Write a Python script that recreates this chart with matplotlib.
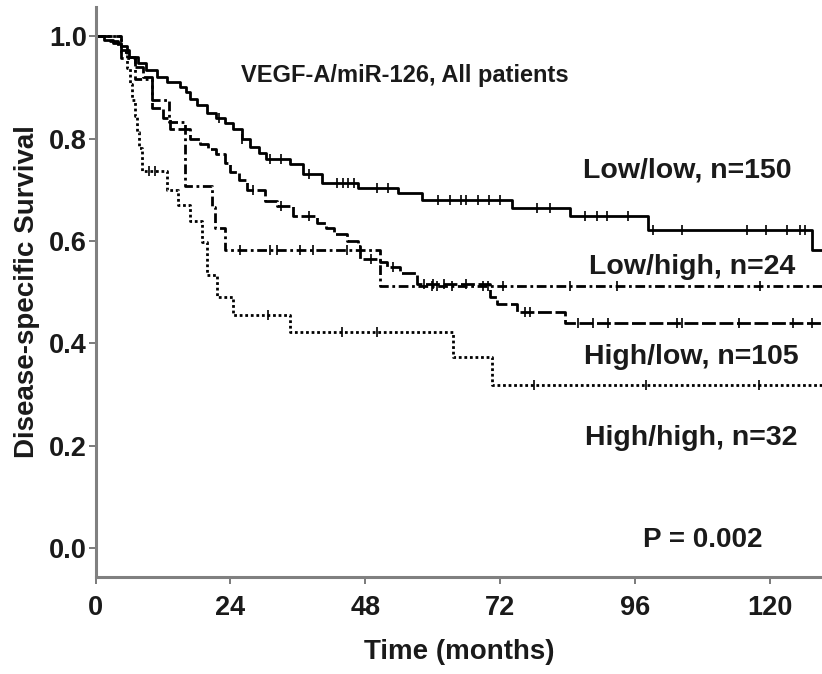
import matplotlib
matplotlib.use("Agg")
import matplotlib.pyplot as plt
import numpy as np

plt.rcParams['font.family'] = ['Liberation Sans', 'DejaVu Sans']
plt.rcParams['font.weight'] = 'bold'

# Kaplan-Meier step data (time in months, survival)
lowlow_t = [0, 1.5, 3, 4.5, 6, 7.5, 9, 11, 12.7, 15.0, 16, 16.8, 18, 19.8, 21.5, 23, 24.4, 26, 27.5,
            29, 30.4, 34.6, 36.9, 40.3, 46.7, 53.8, 58.1, 74.1, 84.4, 98.3, 127.5]
lowlow_s = [1.0, 0.993, 0.987, 0.973, 0.96, 0.947, 0.933, 0.92, 0.91, 0.90, 0.89, 0.877, 0.866, 0.849,
            0.84, 0.83, 0.818, 0.80, 0.784, 0.772, 0.76, 0.75, 0.73, 0.714, 0.703, 0.693, 0.68, 0.665,
            0.648, 0.622, 0.583]
lowlow_cens = [22, 26, 31, 33, 38, 43, 44, 45, 46, 50, 52, 61, 63, 65, 66, 68, 70, 72, 78.5, 80.9,
               87.1, 89.2, 91, 94.7, 99.2, 104.3, 115.9, 119.4, 123, 125.3, 126.2]

lowhigh_t = [0, 4.5, 7, 10, 13, 15.9, 20.7, 21.2, 23.0, 50.6]
lowhigh_s = [1.0, 0.958, 0.917, 0.875, 0.833, 0.708, 0.667, 0.625, 0.583, 0.511]
lowhigh_cens = [25.7, 31, 32.3, 36.4, 38.7, 44.7, 59.8, 60.7, 63.4, 68.9, 69.8, 72.5, 84.4, 92.8, 118.2]

highlow_t = [0, 2.5, 4, 5.5, 7, 8.5, 10, 12, 13.2, 16.8, 18.5, 20, 21.5, 23, 23.9, 25.5, 26.9, 30.1,
             32.2, 35.1, 39.4, 41, 42.5, 44.7, 46.7, 47.0, 50.6, 51.8, 54.1, 57.2, 70.2, 71.4, 75, 83.5]
highlow_s = [1.0, 0.99, 0.98, 0.96, 0.94, 0.92, 0.86, 0.84, 0.818, 0.80, 0.79, 0.779, 0.77, 0.752,
             0.734, 0.718, 0.70, 0.678, 0.668, 0.648, 0.635, 0.625, 0.613, 0.60, 0.589, 0.564, 0.558,
             0.548, 0.538, 0.515, 0.49, 0.476, 0.46, 0.44]
highlow_cens = [28, 33, 38, 49, 53, 58.5, 60, 62, 66, 76.4, 77.3, 85.8, 88.5, 91.2, 103.4, 104.3,
                114.6, 124.1, 127.6]

highhigh_t = [0, 4.5, 5.6, 6.1, 6.5, 7.0, 7.4, 7.8, 8.2, 12.7, 14.6, 16.8, 18.9, 19.8, 21.6, 24.4,
              34.6, 63.6, 70.5]
highhigh_s = [1.0, 0.969, 0.938, 0.906, 0.875, 0.844, 0.812, 0.781, 0.736, 0.70, 0.671, 0.638, 0.597,
              0.534, 0.491, 0.456, 0.421, 0.373, 0.319]
highhigh_cens = [9.5, 10.5, 30.7, 43.8, 50.1, 78, 98, 118]

group_labels = ["Low/low, n=150", "Low/high, n=24", "High/low, n=105", "High/high, n=32"]
label_pos = [(105.4, 0.738), (106.1, 0.549), (106.1, 0.373), (106.1, 0.215)]
x_ticks = [0, 24, 48, 72, 96, 120]
y_ticks = [0.0, 0.2, 0.4, 0.6, 0.8, 1.0]

X_MAX = 129.3

fig = plt.figure(figsize=(8.22, 6.74), dpi=100)
ax = fig.add_axes([0.1164, 0.1439, 0.8836, 0.8457])


def km_curve(t, s, cens, ls):
    t = np.asarray(t, float)
    s = np.asarray(s, float)
    tt = np.append(t, X_MAX + 5)
    ss = np.append(s, s[-1])
    ax.step(tt, ss, where='post', color='black', lw=2.0, linestyle=ls,
            dash_capstyle='butt', solid_capstyle='butt', clip_on=True)
    idx = np.searchsorted(t, cens, side='right') - 1
    ax.plot(cens, s[idx], linestyle='none', marker='|', color='black',
            markersize=7, markeredgewidth=1.2)


km_curve(lowlow_t, lowlow_s, lowlow_cens, '-')
km_curve(lowhigh_t, lowhigh_s, lowhigh_cens, (0, (3.5, 1.3, 1.0, 1.3)))
km_curve(highlow_t, highlow_s, highlow_cens, (0, (5, 1.3)))
km_curve(highhigh_t, highhigh_s, highhigh_cens, (0, (1.0, 1.0)))

ax.set_xlim(0, X_MAX)
ax.set_ylim(-0.057, 1.057)
ax.set_xticks(x_ticks)
ax.set_yticks(y_ticks)
ax.set_yticklabels(["%.1f" % v for v in y_ticks])

for side in ['top', 'right']:
    ax.spines[side].set_visible(False)
for side in ['left', 'bottom']:
    ax.spines[side].set_color('#808080')
    ax.spines[side].set_linewidth(2.2)
ax.tick_params(axis='both', colors='#707070', length=5, width=1.3, labelsize=19.5,
               labelcolor='#1a1a1a')
ax.tick_params(axis='y', pad=1.5)
ax.tick_params(axis='x', pad=8)

ax.set_xlabel("Time (months)", fontsize=20, fontweight='bold', color='#1a1a1a', labelpad=13)
ax.set_ylabel("Disease-specific Survival", fontsize=20, fontweight='bold', color='#1a1a1a', labelpad=6)

ax.text(55.0, 0.924, "VEGF-A/miR-126, All patients", fontsize=17, fontweight='bold',
        ha='center', va='center', color='#1a1a1a')
for lab, (x, y) in zip(group_labels, label_pos):
    ax.text(x, y, lab, fontsize=20.5, fontweight='bold', ha='center', va='center', color='#1a1a1a')
ax.text(108.0, 0.016, "P = 0.002", fontsize=20, fontweight='bold', ha='center', va='center',
        color='#1a1a1a')

fig.savefig("out.png", dpi=100)
